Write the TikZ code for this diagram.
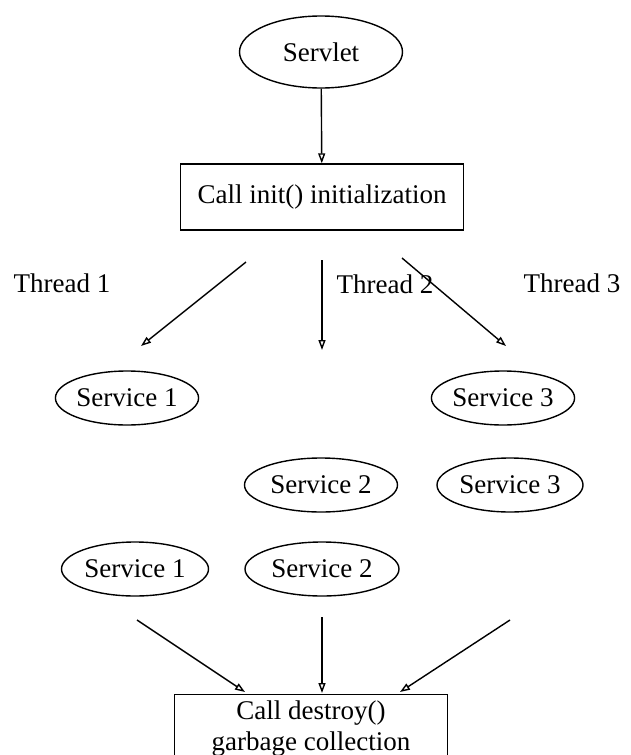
\documentclass[tikz,border=0pt]{standalone}
\usepackage{fontspec}
\setmainfont{Liberation Serif}
\usetikzlibrary{shapes.geometric,arrows.meta}
\begin{document}
\begin{tikzpicture}[x=1pt,y=-1pt]
\tikzstyle{ell} = [shape = ellipse,draw,line width=1.4pt,inner sep=0pt,minimum height=54pt,font=\fontsize{27}{30}\selectfont]
\tikzstyle{box} = [shape = rectangle,draw,line width=1.4pt,inner sep=0pt,align=center,font=\fontsize{27}{31}\selectfont]
\tikzstyle{lbl} = [inner sep=0pt,font=\fontsize{27}{30}\selectfont]
\tikzstyle{arr} = [line width=1.4pt,-{Triangle[open,length=10pt,width=7pt]}]

\clip (0,0) rectangle (631,755);

\node[ell, minimum width=163pt, minimum height=72pt] (servlet) at (321,52) {Servlet};
\node[box, minimum width=283pt, minimum height=66pt] (init) at (322,197) {Call init() initialization};

\draw[arr] (servlet) -- (init);

% threads
\node[lbl] (th1) at (62,283) {Thread 1};
\node[lbl] (th2) at (385,284) {Thread 2};
\node[lbl] (th3) at (572,283) {Thread 3};

\coordinate (a1) at (246,262); \coordinate (b1) at (141,346);
\coordinate (a2) at (322,260); \coordinate (b2) at (322,350);
\coordinate (a3) at (402,258); \coordinate (b3) at (506,346);
\draw[arr] (a1) -- (b1);
\draw[arr] (a2) -- (b2);
\draw[arr] (a3) -- (b3);

% services
\node[ell, minimum width=133pt] (s1a) at (127,398) {Service 1};
\node[ell, minimum width=133pt] (s3a) at (503,398) {Service 3};
\node[ell, minimum width=153pt] (s2a) at (321,485) {Service 2};
\node[ell, minimum width=146pt] (s3b) at (510,485) {Service 3};
\node[ell, minimum width=147pt] (s1b) at (135,569) {Service 1};
\node[ell, minimum width=154pt] (s2b) at (322,569) {Service 2};

% end
\coordinate (c1) at (137,620); \coordinate (d1) at (245,692);
\coordinate (c2) at (322,617); \coordinate (d2) at (322,693);
\coordinate (c3) at (510,620); \coordinate (d3) at (400,692);
\draw[arr] (c1) -- (d1);
\draw[arr] (c2) -- (d2);
\draw[arr] (c3) -- (d3);

\node[box, anchor=north, minimum width=273pt, inner ysep=6pt] (destroy) at (311,694) {Call destroy()\\garbage collection\\[8pt]};

\end{tikzpicture}
\end{document}
